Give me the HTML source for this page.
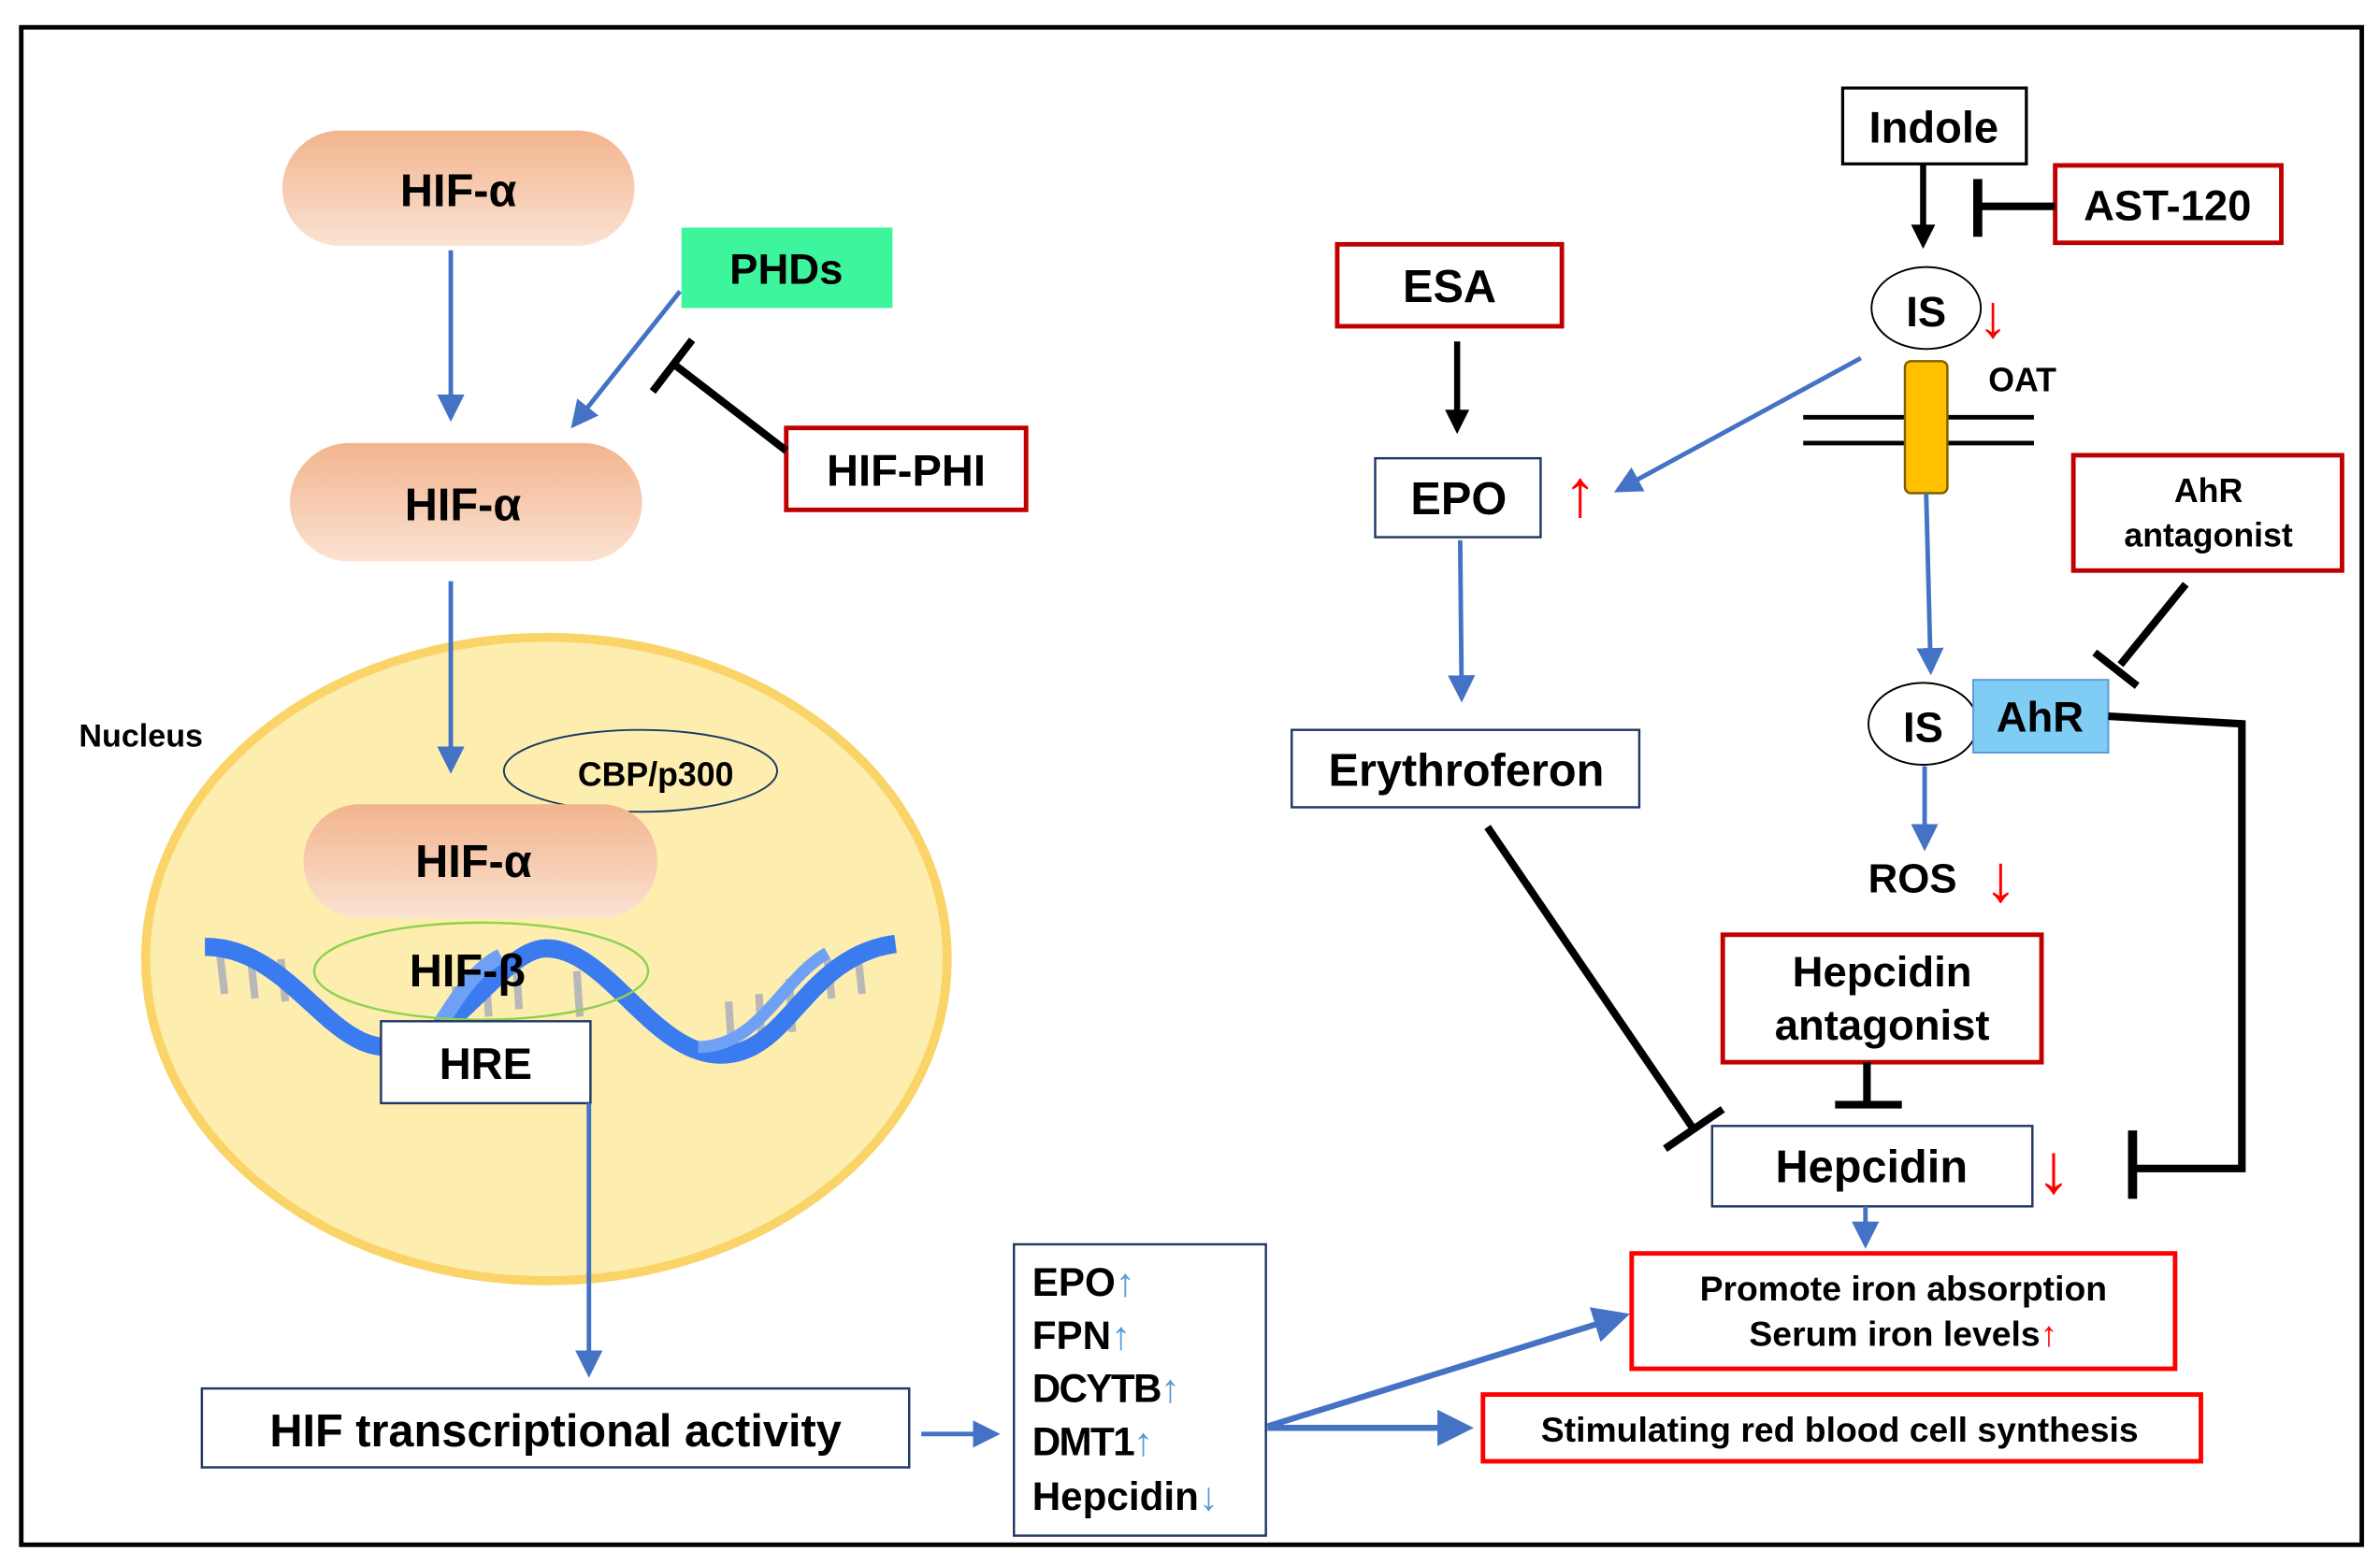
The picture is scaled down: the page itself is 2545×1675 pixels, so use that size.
<!DOCTYPE html>
<html><head><meta charset="utf-8"><style>
html,body{margin:0;padding:0;background:#fff;width:2545px;height:1675px;overflow:hidden}
svg{display:block}
text{font-family:"Liberation Sans",Arial,sans-serif;font-weight:bold;fill:#000}
</style></head><body>
<svg width="2545" height="1675" viewBox="0 0 1568 1032" preserveAspectRatio="none">
<defs>
<linearGradient id="pk" x1="0" y1="0" x2="0" y2="1"><stop offset="0" stop-color="#f2b48e"/><stop offset="1" stop-color="#fbe2d2"/></linearGradient>
<marker id="ab" markerWidth="6" markerHeight="6" refX="5" refY="3" orient="auto" markerUnits="strokeWidth"><path d="M0,0 L6,3 L0,6 z" fill="#4472c4"/></marker>
<marker id="ak" markerWidth="4" markerHeight="4" refX="3" refY="2" orient="auto" markerUnits="strokeWidth"><path d="M0,0 L4,2 L0,4 z" fill="#000"/></marker>
</defs>
<rect x="0" y="0" width="1568" height="1032" fill="#fff"/>
<rect x="14" y="18" width="1542" height="1000" fill="none" stroke="#000" stroke-width="3"/>

<!-- nucleus -->
<ellipse cx="360" cy="632" rx="264" ry="212" fill="#fdeeb0" stroke="#fad468" stroke-width="6"/>
<text x="52" y="492" font-size="21">Nucleus</text>

<!-- HIF-alpha pills -->
<rect x="186" y="86" width="232" height="76" rx="38" fill="url(#pk)"/>
<text x="302" y="136" font-size="30" text-anchor="middle">HIF-α</text>
<line x1="297" y1="165" x2="297" y2="275" stroke="#4472c4" stroke-width="3" marker-end="url(#ab)"/>
<rect x="449" y="150" width="139" height="53" fill="#3cf59c"/>
<text x="518" y="187" font-size="28" text-anchor="middle">PHDs</text>
<line x1="448" y1="192" x2="378" y2="280" stroke="#4472c4" stroke-width="3" marker-end="url(#ab)"/>
<rect x="518" y="282" width="158" height="54" fill="#fff" stroke="#c00000" stroke-width="3"/>
<text x="597" y="320" font-size="29" text-anchor="middle">HIF-PHI</text>
<line x1="518" y1="297" x2="444" y2="240" stroke="#000" stroke-width="5"/>
<line x1="430" y1="258" x2="456" y2="224" stroke="#000" stroke-width="5"/>

<rect x="191" y="292" width="232" height="78" rx="39" fill="url(#pk)"/>
<text x="305" y="343" font-size="30" text-anchor="middle">HIF-α</text>
<line x1="297" y1="383" x2="297" y2="507" stroke="#4472c4" stroke-width="3" marker-end="url(#ab)"/>

<ellipse cx="422" cy="508" rx="90" ry="27" fill="none" stroke="#1f3864" stroke-width="1.2"/>
<text x="432" y="518" font-size="22" text-anchor="middle">CBP/p300</text>

<!-- DNA -->
<g stroke="#b8b8b8" stroke-width="5">
<line x1="145" y1="630" x2="148" y2="655"/><line x1="165" y1="630" x2="168" y2="658"/><line x1="185" y1="632" x2="188" y2="660"/>
<line x1="480" y1="660" x2="482" y2="690"/><line x1="500" y1="655" x2="502" y2="690"/><line x1="520" y1="645" x2="522" y2="680"/>
<line x1="545" y1="632" x2="548" y2="658"/><line x1="565" y1="628" x2="568" y2="655"/>
<line x1="320" y1="640" x2="322" y2="670"/><line x1="300" y1="650" x2="302" y2="672"/><line x1="340" y1="635" x2="342" y2="665"/><line x1="380" y1="640" x2="382" y2="670"/>
</g>
<path d="M135,624 C190,624 215,690 255,690 C300,690 330,625 360,625 C400,625 430,695 475,695 C520,695 530,630 590,622" fill="none" stroke="#3a7bf0" stroke-width="12"/>
<path d="M280,690 C300,660 310,640 330,630" fill="none" stroke="#6ea0f5" stroke-width="10"/>
<path d="M460,690 C500,690 515,645 545,628" fill="none" stroke="#6ea0f5" stroke-width="8"/>

<rect x="200" y="530" width="233" height="75" rx="37" fill="url(#pk)"/>
<text x="312" y="578" font-size="30" text-anchor="middle">HIF-α</text>
<ellipse cx="317" cy="640" rx="110" ry="32" fill="none" stroke="#8fd14f" stroke-width="1.5"/>
<text x="308" y="650" font-size="30" text-anchor="middle">HIF-β</text>
<rect x="251" y="673" width="138" height="54" fill="#fff" stroke="#1f3864" stroke-width="1.5"/>
<text x="320" y="711" font-size="29" text-anchor="middle">HRE</text>
<line x1="388" y1="727" x2="388" y2="905" stroke="#4472c4" stroke-width="3" marker-end="url(#ab)"/>

<rect x="133" y="915" width="466" height="52" fill="#fff" stroke="#1f3864" stroke-width="1.5"/>
<text x="366" y="953" font-size="30" text-anchor="middle">HIF transcriptional activity</text>
<line x1="607" y1="945" x2="656" y2="945" stroke="#4472c4" stroke-width="3" marker-end="url(#ab)"/>

<rect x="668" y="820" width="166" height="192" fill="#fff" stroke="#1f3864" stroke-width="1.5"/>
<g font-size="26">
<text x="680" y="854">EPO<tspan fill="#5b9bd5" font-weight="normal">↑</tspan></text>
<text x="680" y="889">FPN<tspan fill="#5b9bd5" font-weight="normal">↑</tspan></text>
<text x="680" y="924" letter-spacing="-1">DCYTB<tspan fill="#5b9bd5" font-weight="normal">↑</tspan></text>
<text x="680" y="959" letter-spacing="-1">DMT1<tspan fill="#5b9bd5" font-weight="normal">↑</tspan></text>
<text x="680" y="995">Hepcidin<tspan fill="#5b9bd5" font-weight="normal">↓</tspan></text>
</g>
<line x1="835" y1="940" x2="1070" y2="867" stroke="#4472c4" stroke-width="4" marker-end="url(#ab)"/>
<line x1="835" y1="941" x2="967" y2="941" stroke="#4472c4" stroke-width="4" marker-end="url(#ab)"/>

<rect x="1075" y="826" width="358" height="76" fill="#fff" stroke="#ff0000" stroke-width="3"/>
<text x="1254" y="857" font-size="23" text-anchor="middle">Promote iron absorption</text>
<text x="1254" y="887" font-size="23" text-anchor="middle">Serum iron levels<tspan fill="#ff0000" font-weight="normal">↑</tspan></text>
<rect x="977" y="919" width="473" height="44" fill="#fff" stroke="#ff0000" stroke-width="3"/>
<text x="1212" y="950" font-size="23" text-anchor="middle">Stimulating red blood cell synthesis</text>

<!-- right side -->
<rect x="1214" y="58" width="121" height="50" fill="#fff" stroke="#000" stroke-width="2"/>
<text x="1274" y="94" font-size="29" text-anchor="middle">Indole</text>
<line x1="1267" y1="108" x2="1267" y2="160" stroke="#000" stroke-width="4" marker-end="url(#ak)"/>
<rect x="1354" y="109" width="149" height="51" fill="#fff" stroke="#c00000" stroke-width="3"/>
<text x="1428" y="145" font-size="28" text-anchor="middle">AST-120</text>
<line x1="1354" y1="136" x2="1303" y2="136" stroke="#000" stroke-width="5"/>
<line x1="1303" y1="118" x2="1303" y2="156" stroke="#000" stroke-width="6"/>

<ellipse cx="1269" cy="203" rx="36" ry="27" fill="#fff" stroke="#000" stroke-width="1.2"/>
<text x="1269" y="215" font-size="28" text-anchor="middle">IS</text>
<text x="1313" y="222" font-size="40" fill="#ff0000" font-weight="normal" text-anchor="middle" style="fill:#ff0000">↓</text>
<line x1="1226" y1="236" x2="1066" y2="323" stroke="#4472c4" stroke-width="3" marker-end="url(#ab)"/>
<text x="1310" y="258" font-size="22">OAT</text>
<line x1="1188" y1="275" x2="1340" y2="275" stroke="#000" stroke-width="3"/>
<line x1="1188" y1="292" x2="1340" y2="292" stroke="#000" stroke-width="3"/>
<rect x="1255" y="238" width="28" height="87" rx="4" fill="#ffc000" stroke="#7f6000" stroke-width="1.5"/>
<line x1="1269" y1="325" x2="1272" y2="442" stroke="#4472c4" stroke-width="3" marker-end="url(#ab)"/>

<ellipse cx="1267" cy="477" rx="36" ry="27" fill="#fff" stroke="#000" stroke-width="1.2"/>
<text x="1267" y="489" font-size="28" text-anchor="middle">IS</text>
<rect x="1300" y="448" width="89" height="48" fill="#7fcdf5" stroke="#5b9bd5" stroke-width="1.2"/>
<text x="1344" y="482" font-size="28" text-anchor="middle">AhR</text>
<line x1="1268" y1="505" x2="1268" y2="558" stroke="#4472c4" stroke-width="3" marker-end="url(#ab)"/>
<text x="1260" y="588" font-size="27" text-anchor="middle">ROS</text>
<text x="1318" y="594" font-size="44" font-weight="normal" text-anchor="middle" style="fill:#ff0000">↓</text>

<rect x="1366" y="300" width="177" height="76" fill="#fff" stroke="#c00000" stroke-width="3"/>
<text x="1455" y="331" font-size="22" text-anchor="middle">AhR</text>
<text x="1455" y="360" font-size="22" text-anchor="middle">antagonist</text>
<line x1="1440" y1="385" x2="1397" y2="438" stroke="#000" stroke-width="5"/>
<line x1="1380" y1="430" x2="1408" y2="452" stroke="#000" stroke-width="5"/>
<polyline points="1389,472 1477,477 1477,770 1405,770" fill="none" stroke="#000" stroke-width="5"/>
<line x1="1405" y1="745" x2="1405" y2="790" stroke="#000" stroke-width="6"/>

<rect x="1135" y="616" width="210" height="84" fill="#fff" stroke="#c00000" stroke-width="3"/>
<text x="1240" y="650" font-size="28" text-anchor="middle">Hepcidin</text>
<text x="1240" y="685" font-size="28" text-anchor="middle">antagonist</text>
<line x1="1230" y1="700" x2="1230" y2="727" stroke="#000" stroke-width="5"/>
<line x1="1209" y1="728" x2="1253" y2="728" stroke="#000" stroke-width="5"/>

<rect x="1128" y="742" width="211" height="53" fill="#fff" stroke="#1f3864" stroke-width="1.5"/>
<text x="1233" y="779" font-size="30" text-anchor="middle">Hepcidin</text>
<text x="1353" y="786" font-size="46" font-weight="normal" text-anchor="middle" style="fill:#ff0000">↓</text>
<line x1="1229" y1="795" x2="1229" y2="820" stroke="#4472c4" stroke-width="3" marker-end="url(#ab)"/>

<rect x="881" y="161" width="148" height="54" fill="#fff" stroke="#c00000" stroke-width="3"/>
<text x="955" y="199" font-size="30" text-anchor="middle">ESA</text>
<line x1="960" y1="225" x2="960" y2="282" stroke="#000" stroke-width="4" marker-end="url(#ak)"/>
<rect x="906" y="302" width="109" height="52" fill="#fff" stroke="#1f3864" stroke-width="1.5"/>
<text x="961" y="339" font-size="30" text-anchor="middle">EPO</text>
<text x="1041" y="340" font-size="44" font-weight="normal" text-anchor="middle" style="fill:#ff0000">↑</text>
<line x1="962" y1="356" x2="963" y2="460" stroke="#4472c4" stroke-width="3" marker-end="url(#ab)"/>
<rect x="851" y="481" width="229" height="51" fill="#fff" stroke="#1f3864" stroke-width="1.5"/>
<text x="966" y="518" font-size="30" text-anchor="middle">Erythroferon</text>
<line x1="980" y1="545" x2="1115" y2="743" stroke="#000" stroke-width="5"/>
<line x1="1097" y1="757" x2="1135" y2="731" stroke="#000" stroke-width="5"/>
</svg>
</body></html>
